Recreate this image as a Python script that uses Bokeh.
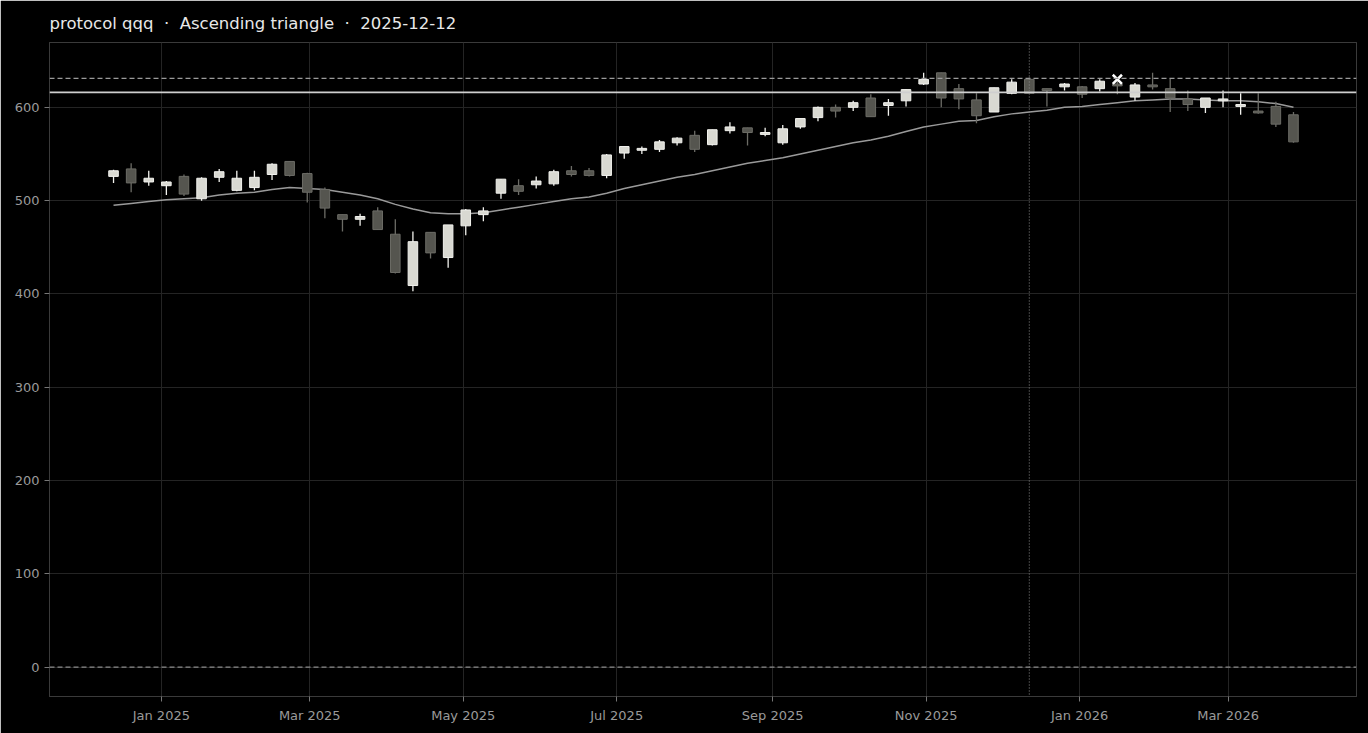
import pandas as pd
from bokeh.plotting import figure
from bokeh.models import ColumnDataSource, Span, Range1d, FixedTicker, DatetimeTickFormatter
from bokeh.embed import file_html
from bokeh.resources import INLINE

# ---- data (weekly candles) ----
start_date = "2024-12-13"
opens = [526, 534, 520, 516, 526, 502, 525, 511, 514, 528, 542, 529, 512, 485, 480, 489, 464, 409, 466, 439,
         473, 485, 508, 516, 517, 518, 532, 532, 527, 551, 554, 555, 562, 570, 560, 575, 578, 571, 562, 579,
         589, 600, 600, 610, 602, 607, 625, 637, 620, 608, 595, 615, 630, 620, 622, 622, 620, 625, 611, 624,
         620, 609, 600, 607, 601, 596, 601, 592]
highs = [533, 540, 532, 521, 528, 525, 534, 532, 532, 540, 542, 530, 514, 485, 486, 493, 480, 467, 466, 474,
         491, 493, 523, 523, 526, 533, 537, 535, 550, 558, 558, 565, 568, 575, 576, 584, 578, 578, 581, 588,
         601, 603, 607, 614, 609, 619, 637, 637, 625, 615, 621, 630, 632, 620, 626, 623, 630, 628, 626, 637,
         631, 618, 610, 618, 615, 615, 606, 595]
lows = [519, 509, 516, 506, 505, 500, 520, 510, 511, 522, 526, 498, 481, 467, 473, 469, 422, 403, 438, 428,
        463, 478, 502, 506, 513, 516, 526, 526, 524, 545, 550, 552, 559, 552, 559, 572, 559, 569, 560, 577,
        585, 589, 596, 590, 591, 601, 624, 600, 598, 583, 595, 614, 615, 601, 618, 610, 617, 614, 607, 619,
        595, 596, 594, 600, 592, 593, 579, 562]
closes = [532, 519, 524, 520, 507, 524, 531, 524, 525, 539, 527, 509, 492, 480, 483, 469, 423, 456, 444, 474,
          490, 489, 523, 510, 521, 531, 528, 527, 549, 558, 556, 563, 567, 555, 576, 579, 573, 573, 577, 588,
          600, 596, 605, 590, 605, 619, 630, 610, 609, 591, 621, 627, 615, 618, 625, 614, 628, 623, 624, 622,
          610, 603, 610, 609, 603, 594, 582, 563]
moving_avg = [495, 497, 499, 501, 502, 503, 506, 508, 509, 512, 514, 513, 512, 509, 506, 502, 496, 491, 487, 486,
              486, 487, 490, 493, 496, 499, 502, 504, 508, 513, 517, 521, 525, 528, 532, 536, 540, 543, 546, 550,
              554, 558, 562, 565, 569, 574, 579, 582, 585, 586, 590, 593, 595, 597, 600, 601, 603, 605, 607, 608,
              609, 609, 608, 607, 607, 606, 604, 600]

breakout_level = 631
resistance_level = 616
zero_level = 0
signal_date = "2025-12-12"
marker_date = ["2026-01-16"]
marker_value = [630]
tick_months = ["2025-01-01", "2025-03-01", "2025-05-01", "2025-07-01", "2025-09-01",
               "2025-11-01", "2026-01-01", "2026-03-01"]
y_ticks = [0, 100, 200, 300, 400, 500, 600]
title_text = "protocol qqq \u00a0·\u00a0 Ascending triangle \u00a0·\u00a0 2025-12-12"

dates = pd.date_range(start_date, periods=len(opens), freq="7D")

UP_FILL, UP_LINE = "#d9d9d2", "#f2f2ee"
DN_FILL, DN_LINE = "#55554f", "#6c6c66"

df = pd.DataFrame({"date": dates, "open": opens, "high": highs, "low": lows, "close": closes, "ma": moving_avg})
df["top"] = df[["open", "close"]].max(axis=1)
df["bottom"] = df[["open", "close"]].min(axis=1)
up = df["close"] >= df["open"]
df["fill"] = [UP_FILL if u else DN_FILL for u in up]
df["line"] = [UP_LINE if u else DN_LINE for u in up]
df["wick"] = [UP_LINE if u else DN_LINE for u in up]
src = ColumnDataSource(df)

DAY = 86400000
x0 = pd.Timestamp(start_date) - pd.Timedelta(days=25.45)
x1 = dates[-1] + pd.Timedelta(days=25.05)

p = figure(x_axis_type="datetime", output_backend="svg", toolbar_location=None,
           frame_width=1307, frame_height=654, min_border_left=49, min_border_right=12,
           min_border_top=42, min_border_bottom=37,
           x_range=Range1d(x0, x1), y_range=Range1d(-31.5, 669.5),
           title=title_text)

p.background_fill_color = "#000000"
p.border_fill_color = "#000000"
p.outline_line_color = "#3a3a3a"

p.title.text_font = "DejaVu Sans"
p.title.text_font_size = "16.5px"
p.title.text_font_style = "normal"
p.title.text_color = "#e8e8e8"
p.title.standoff = 20

for ax in (p.xaxis, p.yaxis):
    ax.axis_line_color = "#3a3a3a"
    ax.major_tick_line_color = "#777777"
    ax.minor_tick_line_color = None
    ax.major_tick_out = 5
    ax.major_tick_in = 0
    ax.major_label_text_color = "#9a9a9a"
    ax.major_label_text_font = "DejaVu Sans"
    ax.major_label_text_font_size = "13px"
p.xaxis.major_label_standoff = 6

p.xaxis.ticker = FixedTicker(ticks=[pd.Timestamp(t).value // 10**6 for t in tick_months])
fmt = "%b %Y"
p.xaxis.formatter = DatetimeTickFormatter(years=fmt, months=fmt, days=fmt, hours=fmt, minutes=fmt,
                                          seconds=fmt, milliseconds=fmt, microseconds=fmt, hourmin=fmt, minsec=fmt)
p.yaxis.ticker = FixedTicker(ticks=y_ticks)

p.grid.grid_line_color = "#242424"
p.grid.grid_line_width = 1

# reference lines
p.add_layout(Span(location=zero_level, dimension="width", line_color="#8a8a8a",
                  line_dash="5 3", line_width=1.3))
p.add_layout(Span(location=breakout_level, dimension="width", line_color="#9a9a9a",
                  line_dash="5 3", line_width=1.3))
p.add_layout(Span(location=resistance_level, dimension="width", line_color="#cfcfcf",
                  line_width=1.8))
p.add_layout(Span(location=pd.Timestamp(signal_date).value // 10**6, dimension="height",
                  line_color="#8a8a8a", line_dash="1 2", line_width=1))

# moving average
p.line("date", "ma", source=src, line_color="#9a9a9a", line_width=1.5)

# candles
p.segment("date", "high", "date", "low", source=src, line_color="wick", line_width=1.3)
p.vbar(x="date", width=3.8 * DAY, top="top", bottom="bottom", source=src,
       fill_color="fill", line_color="line", line_width=1)

# marker
p.scatter(x=pd.to_datetime(marker_date), y=marker_value, marker="x", size=13,
          line_color="#ffffff", line_width=2.5)

html = file_html(p, INLINE)
html = html.replace("<body>", '<body style="background:#000000;">', 1)
open("out.html", "w").write(html)
